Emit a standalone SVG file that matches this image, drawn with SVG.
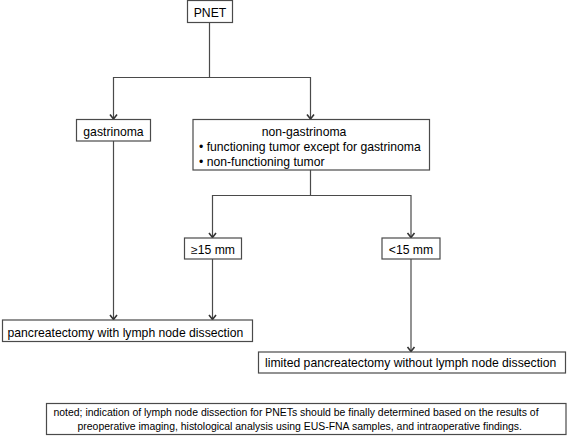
<svg xmlns="http://www.w3.org/2000/svg" width="567" height="436" viewBox="0 0 567 436">
<defs>
<style>
.box{fill:#fff;stroke:#4a4a4a;stroke-width:1.2}
.t{font-family:"Liberation Sans",Arial,sans-serif;font-size:12.2px;fill:#000}
.n{font-family:"Liberation Sans",Arial,sans-serif;font-size:10.45px;fill:#000}
.c{fill:none;stroke:#4a4a4a;stroke-width:1.2}
</style>
<marker id="ah" viewBox="-6 -5 8 10" markerWidth="8" markerHeight="10" refX="0" refY="0" orient="auto" markerUnits="userSpaceOnUse">
<path d="M-4.5,-3.5 L0,0 L-4.5,3.5" fill="none" stroke="#333" stroke-width="1.6"/>
</marker>
</defs>
<rect width="567" height="436" fill="#fff"/>
<g id="connectors">
<path class="c" d="M209.5,22.5 V77.5 H113.5 V119" marker-end="url(#ah)"/>
<path class="c" d="M209.5,77.5 H310.5 V119" marker-end="url(#ah)"/>
<path class="c" d="M113.5,141 V319.5" marker-end="url(#ah)"/>
<path class="c" d="M310.5,170 V195.5 H212.5 V237.5" marker-end="url(#ah)"/>
<path class="c" d="M310.5,195.5 H411 V237.5" marker-end="url(#ah)"/>
<path class="c" d="M212.5,259 V319.5" marker-end="url(#ah)"/>
<path class="c" d="M411,259 V351.5" marker-end="url(#ah)"/>
</g>
<g id="pnet">
<rect class="box" x="187.5" y="0.5" width="45" height="22"/>
<text class="t" x="210" y="17" text-anchor="middle">PNET</text>
</g>
<g id="gastrinoma">
<rect class="box" x="76.5" y="119.5" width="74" height="21.5"/>
<text class="t" x="113.5" y="135.5" text-anchor="middle">gastrinoma</text>
</g>
<g id="non-gastrinoma">
<rect class="box" x="193" y="119.5" width="236.5" height="50.5"/>
<text class="t" x="304" y="135.5" text-anchor="middle">non-gastrinoma</text>
<text class="t" x="199" y="150.5">• functioning tumor except for gastrinoma</text>
<text class="t" x="199" y="165.5">• non-functioning tumor</text>
</g>
<g id="ge15">
<rect class="box" x="184.5" y="238" width="57" height="21"/>
<text class="t" x="213" y="254" text-anchor="middle">≥15 mm</text>
</g>
<g id="lt15">
<rect class="box" x="382" y="238" width="58" height="21"/>
<text class="t" x="411" y="254" text-anchor="middle">&lt;15 mm</text>
</g>
<g id="pancreatectomy">
<rect class="box" x="2.5" y="320" width="250" height="21.5"/>
<text class="t" x="7.5" y="336.5">pancreatectomy with lymph node dissection</text>
</g>
<g id="limited">
<rect class="box" x="258.5" y="352" width="307" height="21"/>
<text class="t" x="265" y="367">limited pancreatectomy without lymph node dissection</text>
</g>
<g id="note">
<rect class="box" x="46.5" y="403.5" width="519.5" height="31"/>
<text class="n" x="53.5" y="415.5">noted; indication of lymph node dissection for PNETs should be finally determined based on the results of</text>
<text class="n" x="77.5" y="430">preoperative imaging, histological analysis using EUS-FNA samples, and intraoperative findings.</text>
</g>
</svg>
